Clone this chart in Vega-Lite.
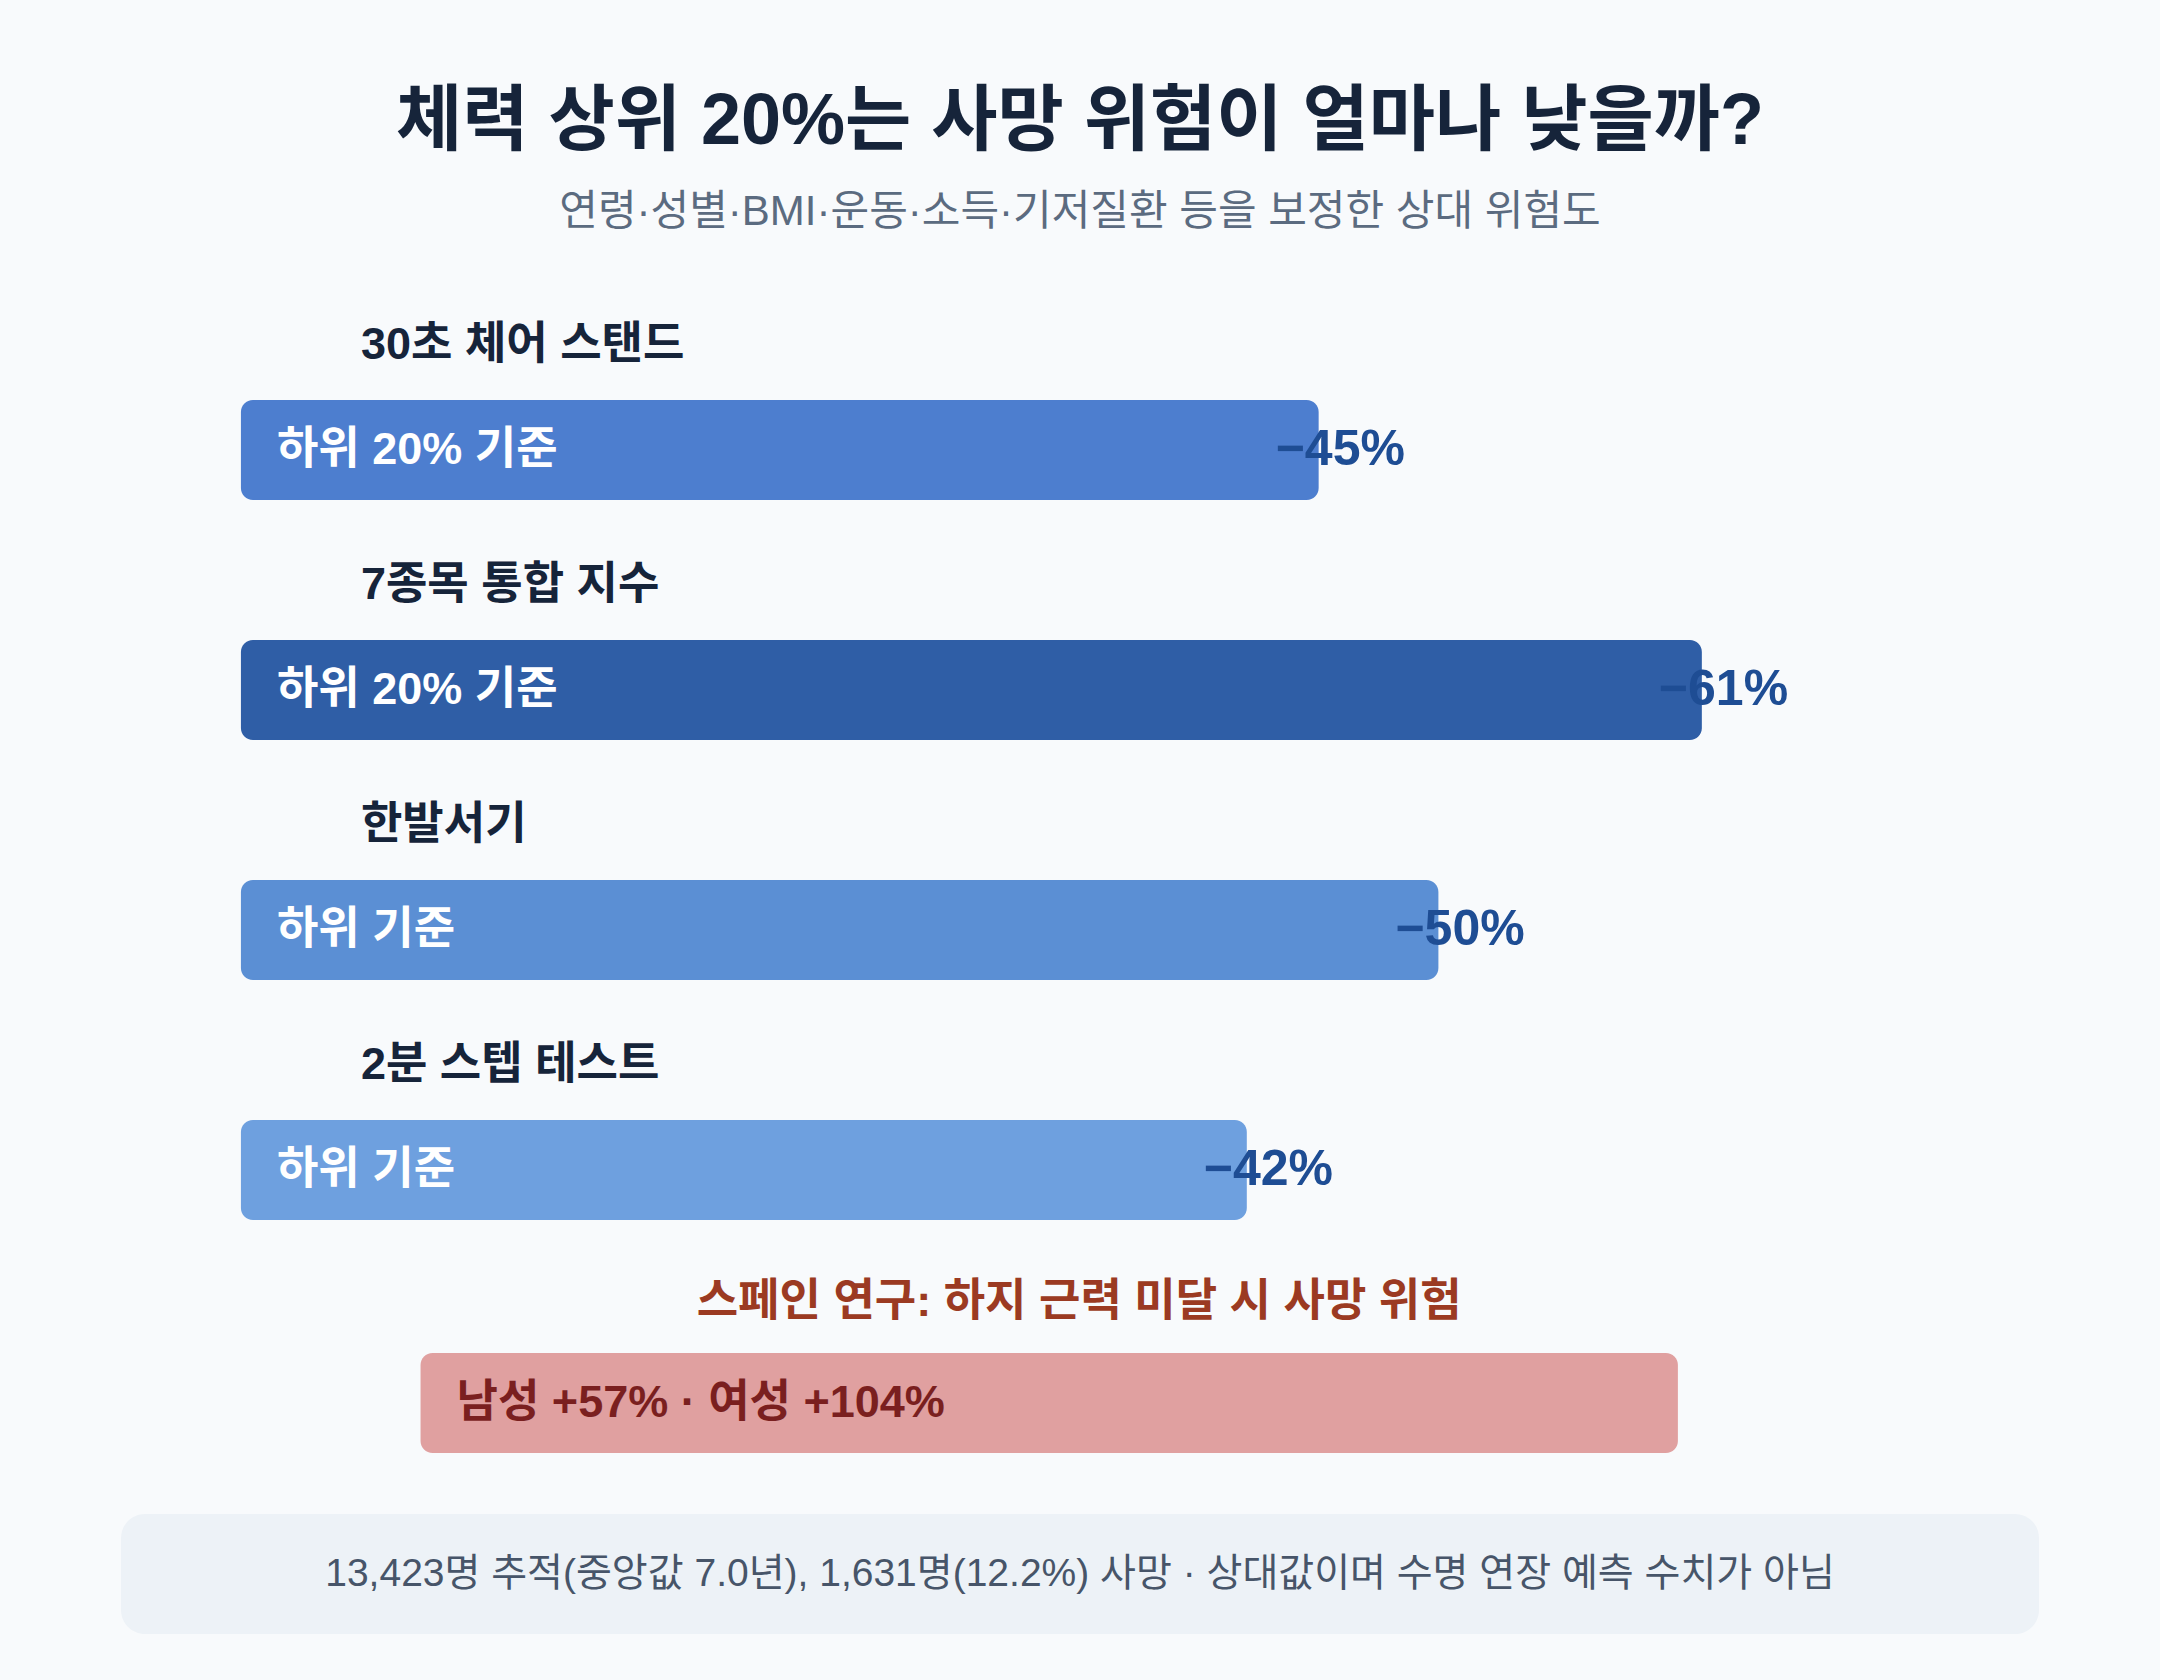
{
  "$schema": "https://vega.github.io/schema/vega-lite/v6.json",
  "background": "#f8fafc",
  "padding": {"top": 86, "left": 0, "right": 0, "bottom": 48},
  "config": {
    "font": "'Liberation Sans', 'Noto Sans CJK KR', sans-serif",
    "view": {"stroke": null}
  },
  "title": {
    "text": "체력 상위 20%는 사망 위험이 얼마나 낮을까?",
    "subtitle": "연령·성별·BMI·운동·소득·기저질환 등을 보정한 상대 위험도",
    "anchor": "middle",
    "fontSize": 72,
    "fontWeight": "bold",
    "color": "#16243a",
    "subtitleFontSize": 42,
    "subtitleColor": "#5b6b80",
    "subtitlePadding": 33,
    "offset": 89
  },
  "bounds": "flush",
  "center": true,
  "spacing": 44,
  "vconcat": [
    {
      "width": 2160,
      "height": 1080,
      "data": {
        "values": [
          {"test": "30초 체어 스탠드", "basis": "하위 20% 기준", "reduction": 45, "label": "−45%"},
          {"test": "7종목 통합 지수", "basis": "하위 20% 기준", "reduction": 61, "label": "−61%"},
          {"test": "한발서기", "basis": "하위 기준", "reduction": 50, "label": "−50%"},
          {"test": "2분 스텝 테스트", "basis": "하위 기준", "reduction": 42, "label": "−42%"}
        ]
      },
      "encoding": {
        "y": {
          "field": "test",
          "type": "nominal",
          "axis": null,
          "scale": {
            "type": "point",
            "padding": 0.25,
            "domain": ["30초 체어 스탠드", "7종목 통합 지수", "한발서기", "2분 스텝 테스트", "스페인 연구: 하지 근력 미달 시 사망 위험"]
          }
        }
      },
      "layer": [
        {
          "mark": {"type": "bar", "height": 100, "cornerRadius": 12},
          "encoding": {
            "x": {
              "field": "reduction",
              "type": "quantitative",
              "axis": null,
              "scale": {"domain": [-10.06, 80.13], "nice": false, "zero": false}
            },
            "x2": {"datum": 0},
            "color": {
              "field": "test",
              "type": "nominal",
              "legend": null,
              "scale": {
                "domain": ["30초 체어 스탠드", "7종목 통합 지수", "한발서기", "2분 스텝 테스트"],
                "range": ["#4d7ecf", "#2f5ea6", "#5b8fd4", "#6ea0df"]
              }
            }
          }
        },
        {
          "mark": {"type": "text", "align": "left", "baseline": "middle", "dx": 120, "dy": -105, "fontSize": 45, "fontWeight": "bold", "color": "#16243a"},
          "encoding": {
            "x": {"datum": 0},
            "text": {"field": "test"}
          }
        },
        {
          "mark": {"type": "text", "align": "left", "baseline": "middle", "dx": 36, "fontSize": 45, "fontWeight": "bold", "color": "#ffffff"},
          "encoding": {
            "x": {"datum": 0},
            "text": {"field": "basis"}
          }
        },
        {
          "mark": {"type": "text", "align": "left", "baseline": "middle", "dx": -43, "fontSize": 50, "fontWeight": "bold", "color": "#1e4d94"},
          "encoding": {
            "x": {"field": "reduction", "type": "quantitative"},
            "text": {"field": "label"}
          }
        },
        {
          "data": {
            "values": [
              {"test": "스페인 연구: 하지 근력 미달 시 사망 위험", "summary": "남성 +57% · 여성 +104%"}
            ]
          },
          "layer": [
            {
              "mark": {"type": "bar", "height": 100, "cornerRadius": 12, "color": "#e0a0a0", "yOffset": -7},
              "encoding": {
                "x": {"datum": 7.5},
                "x2": {"datum": 60}
              }
            },
            {
              "mark": {"type": "text", "align": "center", "baseline": "middle", "dy": -101, "yOffset": -7, "fontSize": 45, "fontWeight": "bold", "color": "#9b3a22"},
              "encoding": {
                "x": {"datum": 35},
                "text": {"field": "test"}
              }
            },
            {
              "mark": {"type": "text", "align": "left", "baseline": "middle", "dx": 36, "yOffset": -7, "fontSize": 45, "fontWeight": "bold", "color": "#7a1f1f"},
              "encoding": {
                "x": {"datum": 7.5},
                "text": {"field": "summary"}
              }
            }
          ]
        }
      ]
    },
    {
      "width": 1918,
      "height": 120,
      "view": {"fill": "#edf2f7", "stroke": null, "cornerRadius": 24},
      "data": {
        "values": [
          {"note": "13,423명 추적(중앙값 7.0년), 1,631명(12.2%) 사망 · 상대값이며 수명 연장 예측 수치가 아님"}
        ]
      },
      "mark": {"type": "text", "align": "center", "baseline": "middle", "fontSize": 39, "color": "#475569"},
      "encoding": {
        "text": {"field": "note"}
      }
    }
  ]
}
